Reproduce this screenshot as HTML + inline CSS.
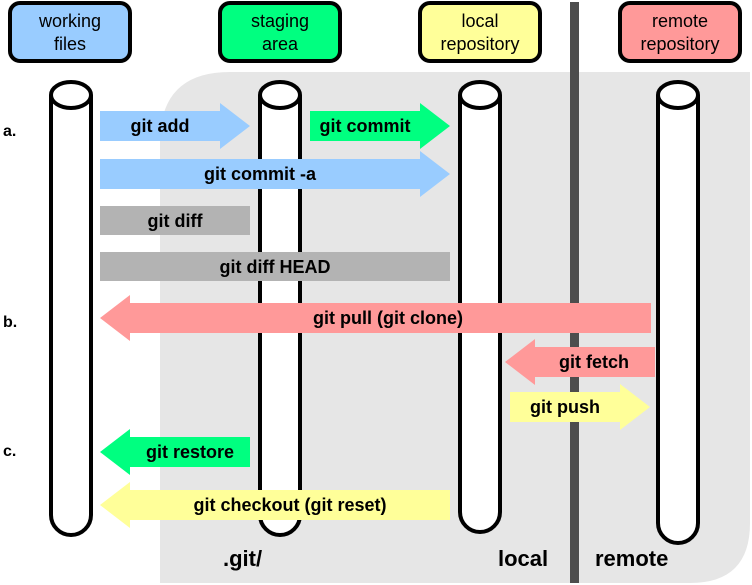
<!DOCTYPE html>
<html><head><meta charset="utf-8"><style>
body{margin:0;background:#fff}
svg{display:block;font-family:"Liberation Sans",Arial,sans-serif}
</style></head><body>
<svg width="752" height="585" viewBox="0 0 752 585">
<path d="M160,583 L160,142 Q160,72 230,72 L750,72 L750,523 Q750,583 690,583 Z" fill="#e6e6e6"/>
<rect x="570" y="2" width="9" height="581" fill="#4d4d4d"/>
<g font-size="18" text-anchor="middle" stroke-width="4" stroke="#000">
<g><rect x="10" y="3" width="120" height="58" rx="10" fill="#99ccff"/><text stroke="none" x="70" y="27">working</text><text stroke="none" x="70" y="50">files</text></g>
<g><rect x="220" y="3" width="120" height="58" rx="10" fill="#00ff80"/><text stroke="none" x="280" y="27">staging</text><text stroke="none" x="280" y="50">area</text></g>
<g><rect x="420" y="3" width="120" height="58" rx="10" fill="#ffff99"/><text stroke="none" x="480" y="27">local</text><text stroke="none" x="480" y="50">repository</text></g>
<g><rect x="620" y="3" width="120" height="58" rx="10" fill="#ff9999"/><text stroke="none" x="680" y="27">remote</text><text stroke="none" x="680" y="50">repository</text></g>
</g>
<g stroke="#000" stroke-width="4" fill="#fff">
<g><path d="M51,95 L51,515 A20,20 0 0 0 91,515 L91,95"/><ellipse cx="71" cy="95" rx="20" ry="13"/></g>
<g><path d="M260,95 L260,515 A20,20 0 0 0 300,515 L300,95"/><ellipse cx="280" cy="95" rx="20" ry="13"/></g>
<g><path d="M460,95 L460,512 A20,20 0 0 0 500,512 L500,95"/><ellipse cx="480" cy="95" rx="20" ry="13"/></g>
<g><path d="M658,95 L658,523 A20,20 0 0 0 698,523 L698,95"/><ellipse cx="678" cy="95" rx="20" ry="13"/></g>
</g>
<g font-size="18" font-weight="bold" text-anchor="middle">
<g><path d="M100,111 H220 V103 L250,126 L220,149 V141 H100Z" fill="#99ccff"/><text x="160" y="132">git add</text></g>
<g><path d="M310,111 H420 V103 L450,126 L420,149 V141 H310Z" fill="#00ff80"/><text x="365" y="132">git commit</text></g>
<g><path d="M100,159 H420 V151 L450,174 L420,197 V189 H100Z" fill="#99ccff"/><text x="260" y="180">git commit -a</text></g>
<g><rect x="100" y="206" width="150" height="29" fill="#b3b3b3"/><text x="175" y="227">git diff</text></g>
<g><rect x="100" y="252" width="350" height="29" fill="#b3b3b3"/><text x="275" y="273">git diff HEAD</text></g>
<g><path d="M651,303 H130 V295 L100,318 L130,341 V333 H651Z" fill="#ff9999"/><text x="388" y="324">git pull (git clone)</text></g>
<g><path d="M655,347 H535 V339 L505,362 L535,385 V377 H655Z" fill="#ff9999"/><text x="594" y="368">git fetch</text></g>
<g><path d="M510,392 H620 V384 L650,407 L620,430 V422 H510Z" fill="#ffff99"/><text x="565" y="413">git push</text></g>
<g><path d="M250,437 H130 V429 L100,452 L130,475 V467 H250Z" fill="#00ff80"/><text x="190" y="458">git restore</text></g>
<g><path d="M450,490 H130 V482 L100,505 L130,528 V520 H450Z" fill="#ffff99"/><text x="290" y="511">git checkout (git reset)</text></g>
</g>
<g font-size="16" font-weight="bold">
<text x="3" y="136">a.</text>
<text x="3" y="327">b.</text>
<text x="3" y="456">c.</text>
</g>
<g font-size="22" font-weight="bold">
<text x="223" y="566">.git/</text>
<text x="498" y="566">local</text>
<text x="595" y="566">remote</text>
</g>
</svg>
</body></html>
